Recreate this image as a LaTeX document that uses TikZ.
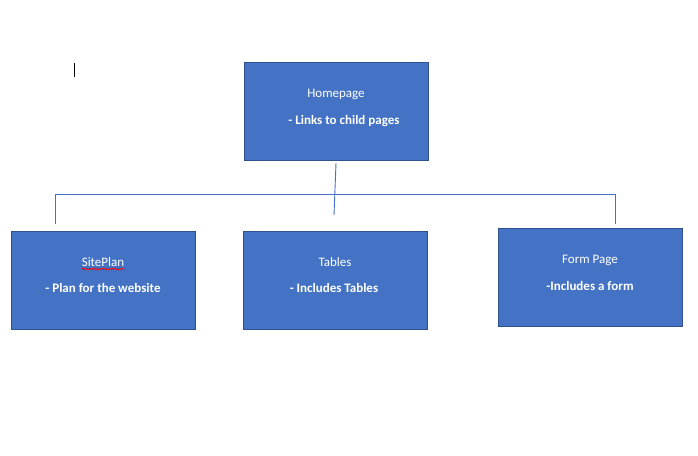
\documentclass[tikz,border=0pt]{standalone}
\usepackage{fontspec}
\setmainfont{Carlito}
\usetikzlibrary{decorations.pathmorphing}
\definecolor{boxfill}{HTML}{4472C4}
\definecolor{boxline}{HTML}{2F528F}
\definecolor{conn}{HTML}{4472C4}
\begin{document}
\begin{tikzpicture}[x=1pt,y=-1pt,
  pagebox/.style={draw=boxline,line width=1pt,fill=boxfill,minimum width=184pt,minimum height=98pt,inner sep=0pt},
  title/.style={text=white,font=\fontsize{13}{15}\selectfont,inner sep=0pt,anchor=base},
  desc/.style={text=white,font=\fontsize{13}{15}\selectfont\bfseries,inner sep=0pt,anchor=base},
  connector/.style={draw=conn,line width=0.9pt}]
\useasboundingbox[fill=white] (0,0) rectangle (698,455);
% boxes
\node[pagebox] (home) at (336,111) {};
\node[pagebox] (site) at (103,280) {};
\node[pagebox] (tables) at (335,280) {};
\node[pagebox] (form) at (590,277) {};
% texts
\node[title] (homet) at (336,97) {Homepage};
\node[desc] (homed) at (344,124) {- Links to child pages};
\node[title] (sitet) at (103,266) {SitePlan};
\node[desc] (sited) at (103,292) {- Plan for the website};
\node[title] (tablest) at (335,266) {Tables};
\node[desc] (tablesd) at (334,292) {- Includes Tables};
\node[title] (formt) at (590,263) {Form Page};
\node[desc] (formd) at (590,290) {-Includes a form};
% spelling squiggle
\draw[red,line width=0.6pt,decorate,decoration={snake,amplitude=0.8pt,segment length=2.5pt}] ([yshift=-3pt]sitet.base west) -- ([yshift=-3pt]sitet.base east);
% connectors
\coordinate (vtop) at (336,163);
\coordinate (vbot) at (334,215);
\coordinate (hl) at (55,194);
\coordinate (hr) at (615,194);
\coordinate (ld) at (55,224);
\coordinate (rd) at (615,224);
\draw[connector] (vtop) -- (vbot);
\draw[connector] (ld) -- (hl) -- (hr) -- (rd);
% text cursor
\coordinate (c1) at (74,63);
\coordinate (c2) at (74,77);
\draw[black,line width=1pt] (c1) -- (c2);
\end{tikzpicture}
\end{document}
